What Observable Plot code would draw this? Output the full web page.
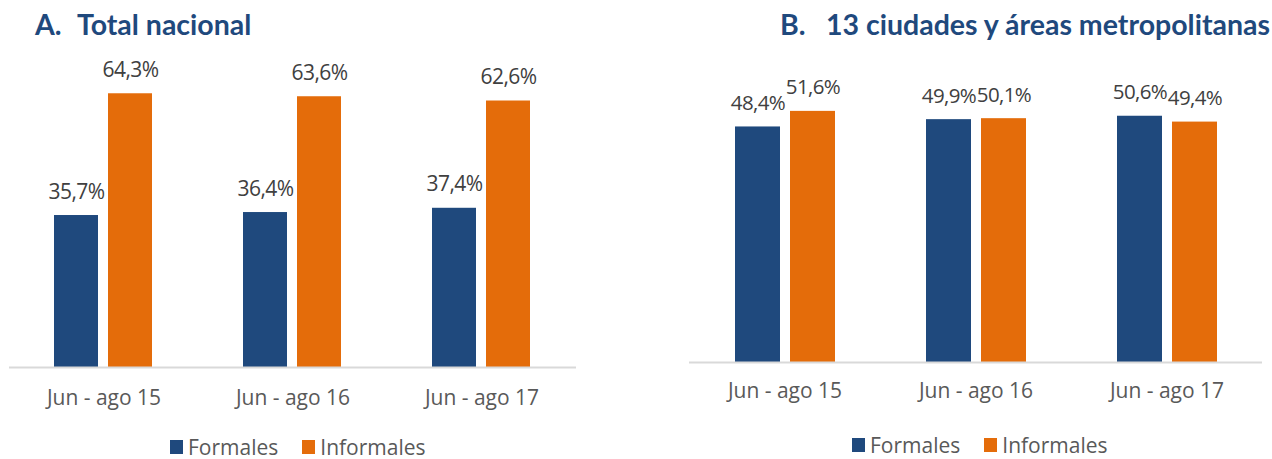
<!DOCTYPE html>
<html>
<head>
<meta charset="utf-8">
<script src="https://cdn.jsdelivr.net/npm/d3@7"></script>
<script src="https://cdn.jsdelivr.net/npm/@observablehq/plot@0.6"></script>
<style>
  html, body { margin: 0; padding: 0; background: #fff; }
  body { position: relative; width: 1272px; height: 459px; overflow: hidden; font-family: "Open Sans", sans-serif; }
  .title { position: absolute; font-family: Lato, "Open Sans", sans-serif; font-weight: 700; color: #1F497D; font-size: 28.5px; line-height: 34px; white-space: nowrap; }
  .chart { position: absolute; }
  .legend { position: absolute; display: flex; align-items: center; font-size: 21px; line-height: 24px; color: #595959; white-space: nowrap; }
  .sw { display: inline-block; width: 13px; height: 14px; margin-right: 5px; }
  .item { display: flex; align-items: center; margin-right: 24px; }
  .lbl text { letter-spacing: -0.6px; }
</style>
</head>
<body>
<div class="title" style="left:35px; top:7px;">A.</div>
<div class="title" style="left:77px; top:7px;">Total nacional</div>
<div class="title" style="left:780px; top:7px;">B.</div>
<div class="title" style="left:826px; top:7px;">13 ciudades y áreas metropolitanas</div>
<div id="chartA" class="chart" style="left:0px; top:40px;"></div>
<div id="chartB" class="chart" style="left:680px; top:40px;"></div>
<div id="legendA" class="legend" style="left:170px; top:435px;"></div>
<div id="legendB" class="legend" style="left:852px; top:433px;"></div>
<script>
const periods = ["Jun - ago 15", "Jun - ago 16", "Jun - ago 17"];
const series = ["Formales", "Informales"];
const nacionalFormales = [35.7, 36.4, 37.4];
const nacionalInformales = [64.3, 63.6, 62.6];
const ciudadesFormales = [48.4, 49.9, 50.6];
const ciudadesInformales = [51.6, 50.1, 49.4];
const seriesColors = ["#1F497D", "#E46C0A"];

function rows(formales, informales) {
  const out = [];
  periods.forEach((p, i) => {
    out.push({period: p, series: series[0], value: formales[i]});
    out.push({period: p, series: series[1], value: informales[i]});
  });
  return out;
}
const fmt = d => d.value.toFixed(1).replace(".", ",") + "%";

function chart(data, {width, height, marginLeft, marginRight, marginTop, marginBottom, yMax, tickPadding, labelSize}) {
  return Plot.plot({
    width, height, marginLeft, marginRight, marginTop, marginBottom,
    style: {fontFamily: "'Open Sans', sans-serif", color: "#595959", background: "transparent"},
    fx: {domain: periods, padding: 0, label: null},
    x: {domain: series, axis: null, paddingInner: 0.1835, paddingOuter: 0.828},
    y: {domain: [0, yMax], axis: null},
    color: {domain: series, range: seriesColors},
    marks: [
      Plot.barY(data, {fx: "period", x: "series", y: "value", fill: "series"}),
      Plot.ruleY([0], {stroke: "#D9D9D9", strokeWidth: 2}),
      Plot.text(data, {fx: "period", x: "series", y: "value", text: fmt, dy: -17, lineAnchor: "bottom", fontSize: labelSize, fill: "#404040", className: "lbl"}),
      Plot.axisFx({anchor: "bottom", tickSize: 0, tickPadding, fontSize: 21, label: null})
    ]
  });
}

document.getElementById("chartA").appendChild(chart(rows(nacionalFormales, nacionalInformales), {
  width: 590, height: 390, marginLeft: 8, marginRight: 14, marginTop: 29, marginBottom: 63, yMax: 70, tickPadding: 23, labelSize: 21
}));
document.getElementById("chartB").appendChild(chart(rows(ciudadesFormales, ciudadesInformales), {
  width: 592, height: 390, marginLeft: 8, marginRight: 9, marginTop: 30, marginBottom: 68, yMax: 60, tickPadding: 21, labelSize: 20.5
}));

function legend(id) {
  const el = document.getElementById(id);
  series.forEach((s, i) => {
    const item = document.createElement("span");
    item.className = "item";
    const sw = document.createElement("span");
    sw.className = "sw";
    sw.style.background = seriesColors[i];
    item.appendChild(sw);
    item.appendChild(document.createTextNode(s));
    el.appendChild(item);
  });
}
legend("legendA");
legend("legendB");
</script>
</body>
</html>
